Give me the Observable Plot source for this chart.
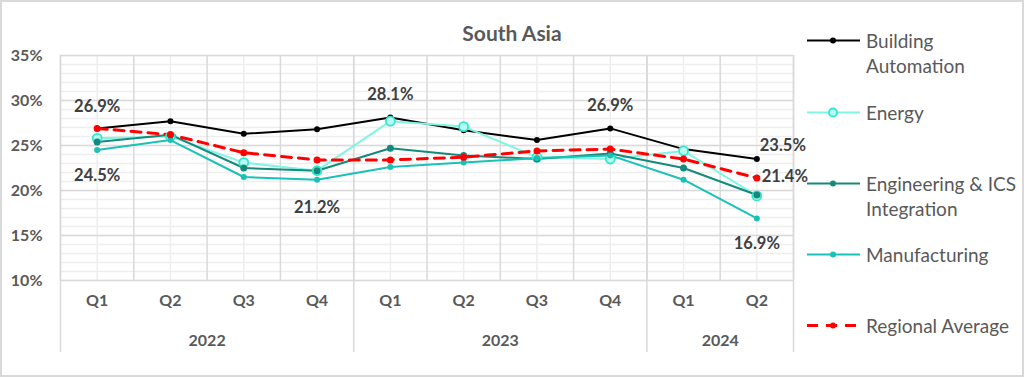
<!DOCTYPE html>
<html><head><meta charset="utf-8">
<script src="https://cdn.jsdelivr.net/npm/d3@7"></script>
<script src="https://cdn.jsdelivr.net/npm/@observablehq/plot@0.6"></script>
<style>
body{margin:0;background:#fff;font-family:Lato,"Open Sans",sans-serif;}
#wrap{position:relative;width:1024px;height:377px;overflow:hidden;background:#fff;}
#border{position:absolute;left:0;top:0;width:1024px;height:377px;box-sizing:border-box;border:2px solid #d9d9d9;pointer-events:none;}
#title{position:absolute;left:0;top:19px;width:1024px;text-align:center;font-weight:bold;font-size:21px;line-height:28px;color:#595959;}
#chart{position:absolute;left:0;top:0;}
#legend{position:absolute;left:806px;top:0;width:215px;height:377px;}
.li{position:absolute;left:0;display:flex;align-items:flex-start;font-size:19px;color:#595959;line-height:25px;white-space:nowrap;}
.li svg{flex:none;margin-top:0;}
.li span{margin-left:6px;}
</style></head>
<body>
<div id="wrap">
  <div id="chart"></div>
  <div id="title">South Asia</div>
  <div id="legend"></div>
  <div id="border"></div>
</div>
<script>
const quarters = ["Q1","Q2","Q3","Q4","Q1","Q2","Q3","Q4","Q1","Q2"];
const years = ["2022","2023","2024"];
const quartersPerYear = [4,4,2];
const yTicks = [10,15,20,25,30,35];

const seriesNames = ["Building Automation","Energy","Engineering & ICS Integration","Manufacturing","Regional Average"];
const buildingAutomation = [26.9,27.7,26.3,26.8,28.1,26.7,25.6,26.9,24.6,23.5];
const energy             = [25.8,26.0,23.1,22.2,27.7,27.1,23.7,23.5,24.4,19.4];
const engineeringICS     = [25.4,26.2,22.5,22.2,24.7,23.9,23.5,24.1,22.5,19.5];
const manufacturing      = [24.5,25.6,21.5,21.2,22.6,23.1,23.6,23.9,21.2,16.9];
const regionalAverage    = [26.9,26.2,24.2,23.4,23.4,23.7,24.4,24.6,23.5,21.4];

// labelled points: [series index, quarter index]
const labelled = [[0,0],[3,0],[3,3],[0,4],[0,7],[0,9],[4,9],[3,9]];

const values = [buildingAutomation, energy, engineeringICS, manufacturing, regionalAverage];
const styles = [
  {stroke:"#000000", width:2, r:3, fill:"#000000", dot:"#000000"},
  {stroke:"#7ff5e3", width:2, r:4.5, fill:"#b9fbf1", dot:"#33e6cc"},
  {stroke:"#138a7b", width:2, r:3.5, fill:"#138a7b", dot:"#138a7b"},
  {stroke:"#1bc1b6", width:2, r:3, fill:"#1bc1b6", dot:"#1bc1b6"},
  {stroke:"#ff0000", width:3, r:3.5, fill:"#ff0000", dot:"#ff0000", dash:"10,7"}
];
const labelOffsets = {"0,0":[0,-22],"3,0":[0,26],"3,3":[0,28],"0,4":[0,-23],"0,7":[0,-23],"0,9":[26,-13],"4,9":[28,-1],"3,9":[0,25]};

const data = values.map((arr, s) => arr.map((v, i) => ({s, i, v})));
const yearSpans = [];
{ let start = 0;
  years.forEach((y, k) => { const n = quartersPerYear[k]; yearSpans.push({year:y, mid:start+(n-1)/2, lo:start-0.5}); start += n; });
  yearSpans.push({year:null, mid:null, lo:start-0.5});
}
const labelData = labelled.map(([s,i]) => ({s, i, v: values[s][i], text: values[s][i].toFixed(1)+"%", dx: labelOffsets[s+","+i][0], dy: labelOffsets[s+","+i][1]}));

const font = "Lato, 'Open Sans', sans-serif";
const marks = [
  Plot.ruleY(d3.range(10, 36, 1), {stroke:"#eeeeee", strokeWidth:1.5}),
  Plot.ruleX(d3.range(0, quarters.length), {stroke:"#eeeeee", strokeWidth:1.5}),
  Plot.ruleY(yTicks, {stroke:"#d9d9d9", strokeWidth:1.5}),
  Plot.ruleX(d3.range(-0.5, quarters.length, 1), {stroke:"#d9d9d9", strokeWidth:1.5}),
  Plot.ruleX(yearSpans, {x:"lo", stroke:"#d9d9d9", strokeWidth:1.5, insetBottom:-72}),
  Plot.axisY({ticks: yTicks, tickFormat: d => d + "%", tickSize:0, tickPadding:18, fontSize:16, fontWeight:"bold", label:null, fill:"#595959"}),
  Plot.axisX({ticks: d3.range(quarters.length), tickFormat: i => quarters[i], tickSize:0, tickPadding:14, fontSize:16, fontWeight:"bold", label:null, fill:"#595959"}),
  Plot.text(yearSpans.filter(d => d.year), {x:"mid", text:"year", frameAnchor:"bottom", dy:60, lineAnchor:"middle", fontSize:16, fontWeight:"bold", fill:"#595959"})
];
data.forEach((d, s) => {
  const st = styles[s];
  marks.push(Plot.line(d, {x:"i", y:"v", stroke:st.stroke, strokeWidth:st.width, strokeDasharray:st.dash}));
});
data.forEach((d, s) => {
  const st = styles[s];
  marks.push(Plot.dot(d, {x:"i", y:"v", r:st.r, fill:st.fill, stroke: s===1 ? st.dot : "none", strokeWidth: s===1 ? 1.8 : 0}));
});
labelData.forEach(d => marks.push(Plot.text([d], {x:"i", y:"v", text:"text", dx:d.dx, dy:d.dy, fontSize:16.5, fontWeight:"bold", fill:"#404040"})));

const chart = Plot.plot({
  width: 800, height: 377,
  marginLeft: 60, marginRight: 7, marginTop: 55, marginBottom: 97,
  x: {domain: [-0.5, quarters.length - 0.5], axis: null},
  y: {domain: [10, 35], axis: null},
  style: {fontFamily: font, color: "#595959", overflow: "visible", background: "transparent"},
  marks
});
document.getElementById("chart").appendChild(chart);

// legend
const legendTops = [28, 100, 171, 242, 313];
const legendLines = [["Building","Automation"],["Energy"],["Engineering & ICS","Integration"],["Manufacturing"],["Regional Average"]];
const legend = document.getElementById("legend");
seriesNames.forEach((name, s) => {
  const st = styles[s];
  const item = document.createElement("div");
  item.className = "li";
  item.style.top = legendTops[s] + "px";
  const svg = d3.create("svg").attr("width", 54).attr("height", 25);
  svg.append("line").attr("x1", 1).attr("x2", 54).attr("y1", 12.5).attr("y2", 12.5)
    .attr("stroke", st.stroke).attr("stroke-width", st.width).attr("stroke-dasharray", st.dash ? "11,8" : null);
  svg.append("circle").attr("cx", 27).attr("cy", 12.5).attr("r", s===1 ? 4 : 3)
    .attr("fill", st.fill).attr("stroke", s===1 ? st.dot : "none").attr("stroke-width", 1.8);
  item.appendChild(svg.node());
  const span = document.createElement("span");
  span.innerHTML = legendLines[s].join("<br>");
  item.appendChild(span);
  legend.appendChild(item);
});
</script>
</body></html>
